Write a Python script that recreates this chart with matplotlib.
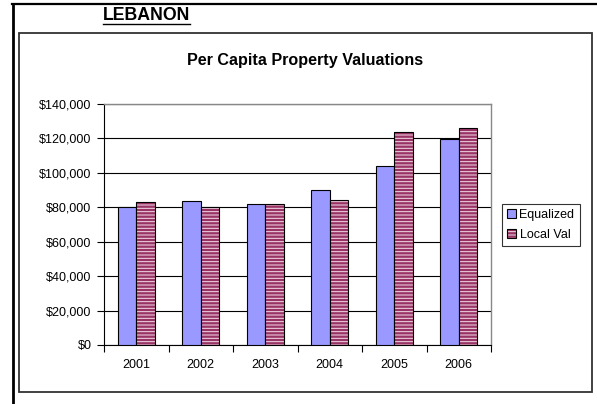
import numpy as np
import matplotlib
matplotlib.use("Agg")
import matplotlib.pyplot as plt
from matplotlib.patches import Rectangle
from matplotlib.lines import Line2D
from matplotlib.ticker import FuncFormatter, MultipleLocator

plt.rcParams["font.family"] = ["Liberation Sans", "DejaVu Sans"]
plt.rcParams["hatch.linewidth"] = 0.7

years = ["2001", "2002", "2003", "2004", "2005", "2006"]
equalized = [80300, 83500, 82100, 90200, 104000, 119800]
local_val = [83000, 80300, 81700, 84200, 123700, 126200]

fig = plt.figure(figsize=(5.97, 4.04), dpi=100)
W, H = 597, 404

# outer page frame (top + left lines) and inner chart box
fig.add_artist(Line2D([12 / W, 1.0], [1 - 4 / H, 1 - 4 / H], color="black", lw=1.6))
fig.add_artist(Line2D([13 / W, 13 / W], [0, 1 - 4 / H], color="black", lw=2.0))
fig.add_artist(Rectangle((19 / W, 1 - 392 / H), (592 - 19) / W, (392 - 33) / H,
                         transform=fig.transFigure, fill=False, edgecolor="#333333", lw=1.3))

# page heading, bold + underlined
fig.text(103 / W, 1 - 16 / H, "LEBANON", fontsize=12.8, fontweight="bold", va="center", ha="left")
fig.add_artist(Line2D([103 / W, 190 / W], [1 - 24 / H, 1 - 24 / H], color="black", lw=1.0))

fig.text(305 / W, 1 - 61 / H, "Per Capita Property Valuations", fontsize=11.6,
         fontweight="bold", ha="center", va="center")

ax = fig.add_axes([104 / W, 1 - 345 / H, (491 - 104) / W, (345 - 104) / H])
x = np.arange(len(years))
bw = 0.29

b1 = ax.bar(x - bw / 2, equalized, bw, color="#9999FF", edgecolor="black", lw=0.8, zorder=3)
b2 = ax.bar(x + bw / 2, local_val, bw, color="#993366", edgecolor="#f4dce8", lw=0,
            hatch="-----", zorder=3)
b2e = ax.bar(x + bw / 2, local_val, bw, fill=False, edgecolor="black", lw=0.8, zorder=4)

ax.set_xlim(-0.5, len(years) - 0.5)
ax.set_ylim(0, 140000)
ax.yaxis.set_major_locator(MultipleLocator(20000))
ax.yaxis.set_major_formatter(FuncFormatter(lambda v, p: "${:,.0f}".format(v)))
ax.yaxis.grid(True, color="black", lw=0.8, zorder=0)
ax.set_axisbelow(True)

ax.set_xticks(x)
ax.set_xticklabels(years)
ax.set_xticks(np.arange(-0.5, len(years)), minor=True)
ax.tick_params(axis="x", which="major", length=0, pad=10, labelsize=9)
ax.tick_params(axis="x", which="minor", length=5, width=0.8, direction="out")
ax.tick_params(axis="y", length=5, width=0.8, direction="out", pad=4, labelsize=9)

for s in ["top", "right"]:
    ax.spines[s].set_color("#888888")
    ax.spines[s].set_linewidth(1.0)
for s in ["left", "bottom"]:
    ax.spines[s].set_color("black")
    ax.spines[s].set_linewidth(0.8)

leg = ax.legend([b1[0], (b2[0], b2e[0])], ["Equalized", "Local Val"],
                loc="upper left", bbox_to_anchor=(502 / W, 1 - 204 / H),
                bbox_transform=fig.transFigure, fontsize=9, frameon=True,
                fancybox=False, handlelength=0.7, handleheight=0.7,
                handletextpad=0.3, borderpad=0.4, labelspacing=0.6,
                borderaxespad=0)
leg.get_frame().set_edgecolor("black")
leg.get_frame().set_linewidth(0.8)

fig.savefig("out.png", dpi=100)
